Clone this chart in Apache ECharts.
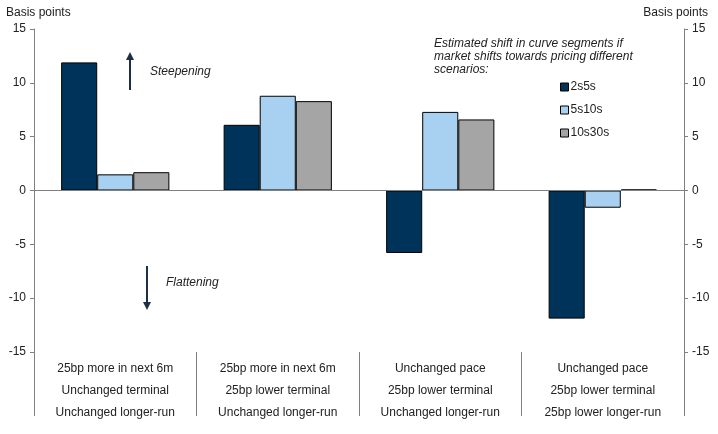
<!DOCTYPE html>
<html>
<head>
<meta charset="utf-8">
<script src="https://cdn.jsdelivr.net/npm/echarts@6/dist/echarts.min.js"></script>
<style>
  html, body { margin: 0; padding: 0; background: #fff; }
  #chart { width: 718px; height: 434px; }
</style>
</head>
<body>
<div id="chart"></div>
<script>
	// 情景（类别）
	var scenarios = [
		'25bp more in next 6m\nUnchanged terminal\nUnchanged longer-run',
		'25bp more in next 6m\n25bp lower terminal\nUnchanged longer-run',
		'Unchanged pace\n25bp lower terminal\nUnchanged longer-run',
		'Unchanged pace\n25bp lower terminal\n25bp lower longer-run'
	];
	var names = ['2s5s', '5s10s', '10s30s'];
	var s2s5s = [11.9, 6.1, -5.8, -11.9];
	var s5s10s = [1.5, 8.8, 7.3, -1.6];
	var s10s30s = [1.7, 8.3, 6.6, 0.1];
	var colors = ['#003359', '#a8d0f0', '#a5a5a5'];

	var font = 'Liberation Sans, Arial, sans-serif';
	var myChart = echarts.init(document.getElementById('chart'));

	var yAxisBase = {
		type: 'value',
		min: -15,
		max: 15,
		interval: 5,
		name: 'Basis points',
		nameLocation: 'end',
		nameGap: 10,
		nameTextStyle: { color: '#222', fontSize: 12, fontFamily: font },
		splitLine: { show: false },
		axisLine: { show: true, lineStyle: { color: '#808080', width: 1 } },
		axisTick: { show: true, length: 4, lineStyle: { color: '#808080' } },
		axisLabel: { color: '#222', fontSize: 12, fontFamily: font, margin: 8 }
	};

	function series(i, data) {
		var s = {
			name: names[i],
			type: 'bar',
			data: data,
			barWidth: '22.2%',
			barGap: '0%',
			itemStyle: { color: colors[i], borderColor: '#000', borderWidth: 1 }
		};
		if (i == 0) {
			// 零线
			s.markLine = {
				silent: true,
				symbol: ['none', 'none'],
				label: { show: false },
				lineStyle: { color: '#808080', width: 1, type: 'solid' },
				data: [{ yAxis: 0 }]
			};
		}
		return s;
	}

	function arrow(x, y1, y2) {
		var dir = y2 < y1 ? -1 : 1;
		return [
			{ type: 'line', shape: { x1: x, y1: y1, x2: x, y2: y2 - dir * 6 },
			  style: { stroke: '#1c2f45', lineWidth: 2 } },
			{ type: 'polygon', shape: { points: [[x - 4, y2 - dir * 8], [x + 4, y2 - dir * 8], [x, y2]] },
			  style: { fill: '#1c2f45' } }
		];
	}

	myChart.setOption({
		animation: false,
		textStyle: { fontFamily: font },
		grid: { left: 34, right: 34, top: 29, bottom: 82, containLabel: false },
		legend: {
			orient: 'vertical',
			left: 555,
			top: 76,
			itemWidth: 8,
			itemHeight: 8,
			itemGap: 11,
			icon: 'rect',
			data: names,
			itemStyle: { borderColor: '#000', borderWidth: 1 },
			textStyle: { color: '#222', fontSize: 12, fontFamily: font, padding: [0, 0, 0, -3] }
		},
		xAxis: {
			type: 'category',
			data: scenarios,
			position: 'bottom',
			axisLine: { show: false, onZero: false },
			axisTick: { show: true, length: 64, lineStyle: { color: '#808080' } },
			axisLabel: { color: '#222', fontSize: 12, fontFamily: font, lineHeight: 22, margin: 6, interval: 0 }
		},
		yAxis: [
			Object.assign({}, yAxisBase, { position: 'left', nameTextStyle: Object.assign({}, yAxisBase.nameTextStyle, { align: 'left', padding: [0, 0, 0, -28] }) }),
			Object.assign({}, yAxisBase, { position: 'right', nameTextStyle: Object.assign({}, yAxisBase.nameTextStyle, { align: 'right', padding: [0, -24, 0, 0] }) })
		],
		series: [series(0, s2s5s), series(1, s5s10s), series(2, s10s30s)],
		graphic: [
			{ type: 'text', left: 434, top: 37,
			  style: { text: 'Estimated shift in curve segments if\nmarket shifts towards pricing different\nscenarios:',
			           font: 'italic 12px ' + font, fill: '#222', lineHeight: 13 } },
			{ type: 'text', left: 150, top: 66,
			  style: { text: 'Steepening', font: 'italic 12px ' + font, fill: '#222' } },
			{ type: 'text', left: 166, top: 277,
			  style: { text: 'Flattening', font: 'italic 12px ' + font, fill: '#222' } }
		].concat(arrow(130, 90, 52)).concat(arrow(147, 266, 310))
	});
</script>
</body>
</html>
